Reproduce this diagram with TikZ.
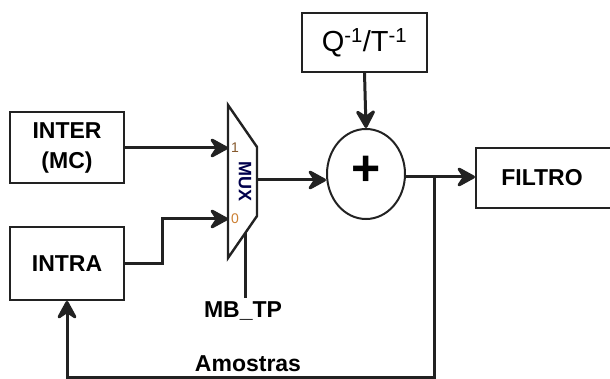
\documentclass[tikz,border=0pt]{standalone}
\usepackage{fontspec}
\setmainfont{Liberation Sans}
\usetikzlibrary{arrows.meta,shapes.geometric}
\definecolor{ln}{HTML}{222222}
\begin{document}
\begin{tikzpicture}[x=1pt,y=-1pt,
  blk/.style={draw=ln,line width=2pt,fill=white,inner sep=0pt},
  lbl/.style={font=\fontsize{23}{25}\selectfont\bfseries},
  wire/.style={draw=ln,line width=3pt},
  arr/.style={wire,-{Stealth[length=22pt,width=24pt,inset=8pt,round]}}]
\useasboundingbox (0,0) rectangle (610,379);
\clip (0,0) rectangle (610,379);
% blocks
\node[blk,minimum width=114pt,minimum height=71pt,lbl,align=center] (inter) at (67,147.5) {INTER\\[5pt](MC)};
\node[blk,minimum width=114pt,minimum height=73pt,lbl] (intra) at (67,263.5) {INTRA};
\node[blk,minimum width=125pt,minimum height=59pt,font=\fontsize{29}{31}\selectfont] (q) at (364.5,42.5) {Q\textsuperscript{-1}/T\textsuperscript{-1}};
\node[blk,minimum width=140pt,minimum height=60pt,lbl,anchor=west] (filtro) at (475,178) {\hspace*{-8pt}FILTRO};
\node[draw=ln,line width=2pt,ellipse,minimum width=78pt,minimum height=90pt,inner sep=0pt] (sum) at (366,174) {};
\node[font=\fontsize{50}{50}\selectfont\bfseries] at (366,171) {+};
% mux
\draw[draw=ln,line width=2.4pt,fill=white] (228,105) -- (257,147) -- (257,216) -- (228,258) -- cycle;
\coordinate (m1) at (228,148);
\coordinate (m0) at (228,219);
\coordinate (mo) at (257,180);
\coordinate (msel) at (245,233);
\node[font=\fontsize{14}{14}\selectfont,text=brown!70!black] at (235,148) {1};
\node[font=\fontsize{14}{14}\selectfont,text=orange!60!gray] at (235,219) {0};
\node[font=\fontsize{18}{18}\selectfont\bfseries,text=blue!30!black,rotate=-90] at (245,182) {MUX};
% labels
\node[lbl] (mbtp) at (243,311) {MB\_TP};
\node[lbl] (amostras) at (248,364) {Amostras};
% wires
\draw[arr] (inter.east |- m1) -- (m1);
\draw[arr] (intra.east) -- (162,263.5) -- (162,219) -- (m0);
\draw[wire] (msel) -- (msel |- mbtp.north);
\draw[arr] (mo) -- (sum.west |- mo);
\draw[arr] (q.south) -- (sum.north);
\coordinate (split) at (434,177);
\draw[arr] (sum.east |- split) -- (filtro.west |- split);
\coordinate (br) at (434,377);
\coordinate (bl) at (67,377);
\draw[arr] (split) -- (br) -- (bl) -- (intra.south);
\end{tikzpicture}
\end{document}
